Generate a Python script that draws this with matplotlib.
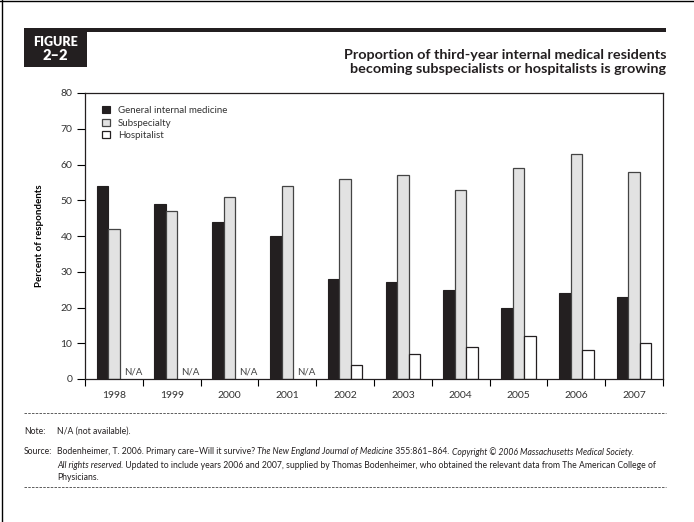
import matplotlib
matplotlib.use('Agg')
import matplotlib.pyplot as plt
import numpy as np
from matplotlib.lines import Line2D
from matplotlib.patches import Rectangle, Patch

plt.rcParams['font.family'] = ['Lato', 'DejaVu Sans']

# data
years = ['1998', '1999', '2000', '2001', '2002', '2003', '2004', '2005', '2006', '2007']
general = [54, 49, 44, 40, 28, 27, 25, 20, 24, 23]
subspecialty = [42, 47, 51, 54, 56, 57, 53, 59, 63, 58]
hospitalist = [None, None, None, None, 4, 7, 9, 12, 8, 10]

W, H = 694, 522
fig = plt.figure(figsize=(W / 100, H / 100), dpi=100)

def fx(px):
    return px / W

def fy(py):
    return 1 - py / H

# page borders (top and left)
fig.add_artist(Line2D([0, 1], [fy(1), fy(1)], color='black', lw=1))
fig.add_artist(Line2D([fx(2), fx(2)], [0, 1], color='black', lw=1))

# header bar and figure box
fig.add_artist(Rectangle((fx(24), fy(32)), fx(666) - fx(24), fy(28) - fy(32),
                         color='#231f20', lw=0))
fig.add_artist(Rectangle((fx(24), fy(67)), fx(87) - fx(24), fy(28) - fy(67),
                         color='#231f20', lw=0))
fig.text(fx(55.5), fy(42), 'FIGURE', color='white', fontsize=9, fontweight='heavy',
         ha='center', va='center')
fig.text(fx(55.5), fy(55.5), '2–2', color='white', fontsize=10.5, fontweight='heavy',
         ha='center', va='center')

fig.text(fx(666), fy(55), 'Proportion of third-year internal medical residents',
         fontsize=10.4, fontweight='bold', ha='right', va='center', color='#231f20')
fig.text(fx(666), fy(69), 'becoming subspecialists or hospitalists is growing',
         fontsize=10.4, fontweight='bold', ha='right', va='center', color='#231f20')

# chart
ax = fig.add_axes([fx(85), fy(379), fx(663) - fx(85), fy(93) - fy(379)])
x = np.arange(len(years))
bw = 0.2
gen_style = dict(facecolor='#231f20', edgecolor='#231f20', lw=0.8)
sub_style = dict(facecolor='#e2e2e2', edgecolor='#444444', lw=0.9)
hos_style = dict(facecolor='white', edgecolor='#231f20', lw=0.9)
ax.bar(x - bw, general, bw, **gen_style)
ax.bar(x, subspecialty, bw, **sub_style)
for i, v in enumerate(hospitalist):
    if v is None:
        ax.text(x[i] + 0.33, 2.0, 'N/A', fontsize=7, color='#444444',
                ha='center', va='center')
    else:
        ax.bar(x[i] + bw, v, bw, **hos_style)

ax.set_xlim(-0.5, len(years) - 0.5)
ax.set_ylim(0, 80)
ax.set_yticks(range(0, 81, 10))
ax.set_xticks(x)
ax.set_xticklabels(years)
ax.set_xticks(np.arange(-0.5, len(years), 1), minor=True)
ax.tick_params(axis='x', which='major', length=0, pad=9, labelsize=7.5, labelcolor='#333333')
ax.tick_params(axis='x', which='minor', length=5, width=0.8, direction='out')
ax.tick_params(axis='y', length=6, width=0.8, direction='out', pad=3,
               labelsize=7.5, labelcolor='#333333')
for s in ax.spines.values():
    s.set_linewidth(0.9)
    s.set_color('#231f20')
ax.set_ylabel('Percent of respondents', fontsize=7, fontweight='bold', labelpad=12)

handles = [Patch(label='General internal medicine', **gen_style),
           Patch(label='Subspecialty', **sub_style),
           Patch(label='Hospitalist', **hos_style)]
leg = ax.legend(handles=handles, loc='upper left', frameon=False, fontsize=7,
                handlelength=0.8, handleheight=0.8, handletextpad=0.8,
                labelspacing=0.35, borderaxespad=0.5, bbox_to_anchor=(0.015, 0.985))
for t in leg.get_texts():
    t.set_color('#333333')

# footer
def dashed(py):
    fig.add_artist(Line2D([fx(24), fx(666)], [fy(py), fy(py)], color='#444444',
                          lw=0.6, ls=(0, (3, 1.5))))

dashed(413)
dashed(487)

fs = 6.2
renderer = fig.canvas.get_renderer()

def runs(px, py, parts):
    xpos = fx(px)
    for txt, style in parts:
        t = fig.text(xpos, fy(py), txt, fontsize=fs, style=style, color='#231f20',
                     ha='left', va='center')
        bb = t.get_window_extent(renderer=renderer)
        xpos += bb.width / W

fig.text(fx(24), fy(431), 'Note:', fontsize=fs, color='#231f20', va='center')
fig.text(fx(57), fy(431), 'N/A (not available).', fontsize=fs, color='#231f20', va='center')
fig.text(fx(24), fy(452), 'Source:', fontsize=fs, color='#231f20', va='center')
runs(57, 452, [('Bodenheimer, T. 2006. Primary care–Will it survive? ', 'normal'),
               ('The New England Journal of Medicine', 'italic'),
               (' 355:861–864. ', 'normal'),
               ('Copyright © 2006 Massachusetts Medical Society.', 'italic')])
runs(57, 465, [('All rights reserved', 'italic'),
               ('. Updated to include years 2006 and 2007, supplied by Thomas Bodenheimer, '
                'who obtained the relevant data from The American College of', 'normal')])
runs(57, 477, [('Physicians.', 'normal')])

fig.savefig('out.png', dpi=100)
